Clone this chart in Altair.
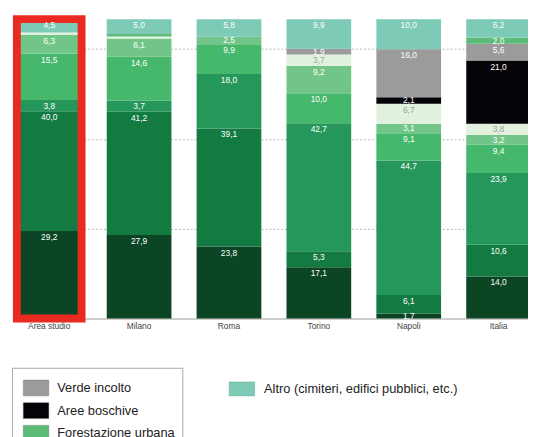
import altair as alt
import pandas as pd

cities = ["Area studio", "Milano", "Roma", "Torino", "Napoli", "Italia"]

categories = [
    "Verde storico",
    "Grandi parchi urbani",
    "Verde attrezzato",
    "Aree di arredo urbano",
    "Giardini scolastici",
    "Orti urbani",
    "Aree boschive",
    "Verde incolto",
    "Forestazione urbana",
    "Altro (cimiteri, edifici pubblici, etc.)",
]

colors = [
    "#0b4523", "#137a42", "#26975a", "#45b86c", "#72c588",
    "#e2f1de", "#050208", "#9b9b9b", "#5cbb77", "#7dcab6",
]

# values per city, bottom -> top, in the category order above
area_studio = [29.2, 40.0, 3.8, 15.5, 6.3, 0.7, 0.0, 0.0, 0.0, 4.5]
milano      = [27.9, 41.2, 3.7, 14.6, 6.1, 0.7, 0.0, 0.0, 0.8, 5.0]
roma        = [23.8, 39.1, 18.0, 9.9, 2.5, 0.0, 0.0, 0.0, 0.0, 5.8]
torino      = [17.1, 5.3, 42.7, 10.0, 9.2, 3.7, 0.0, 1.9, 0.0, 9.9]
napoli      = [1.7, 6.1, 44.7, 9.1, 3.1, 6.7, 2.1, 16.0, 0.0, 10.0]
italia      = [14.0, 10.6, 23.9, 9.4, 3.2, 3.8, 21.0, 5.6, 2.0, 6.2]

series = [area_studio, milano, roma, torino, napoli, italia]

rows = []
for city, vals in zip(cities, series):
    for i, (cat, v) in enumerate(zip(categories, vals)):
        rows.append({"city": city, "cat": cat, "order": i, "value": v})
df = pd.DataFrame(rows)

ALTRO = categories[-1]
VERY_LIGHT = categories[5]
FONT = "Liberation Sans"

rect_path = "M-1,-0.62H1V0.62H-1Z"
rect_path2 = "M-1,-0.55H1V0.55H-1Z"

x_enc = alt.X(
    "city:N",
    sort=cities,
    scale=alt.Scale(range=[9, 531], paddingInner=0.28, paddingOuter=0),
    axis=alt.Axis(
        title=None, ticks=False, labelAngle=0, labelFont=FONT, labelFontSize=8.5,
        labelColor="#444", labelPadding=3, domainColor="#9a9a9a", domainWidth=1,
        grid=False,
    ),
)

base = (
    alt.Chart(df)
    .transform_joinaggregate(total="sum(value)", groupby=["city"])
    .transform_calculate(pct="100 * datum.value / datum.total")
    .transform_window(
        cum="sum(pct)", sort=[alt.SortField("order")], groupby=["city"], frame=[None, 0]
    )
    .transform_calculate(
        start="datum.cum - datum.pct",
        ly="datum.cum - min(datum.pct / 2, 2.0)",
        label="replace(format(datum.value, '.1f'), '.', ',')",
    )
)

y_scale = alt.Scale(domain=[0, 100], nice=False)
y_axis = alt.Axis(
    title=None, labels=False, ticks=False, domain=False, values=[30, 60, 90],
    grid=True, gridColor="#b5b5b5", gridDash=[2, 2], gridWidth=1,
)

bars = base.transform_filter(alt.datum.cat != ALTRO).mark_bar().encode(
    x=x_enc,
    y=alt.Y("start:Q", scale=y_scale, axis=y_axis),
    y2="cum:Q",
    color=alt.Color(
        "cat:N",
        scale=alt.Scale(domain=categories[:-1], range=colors[:-1]),
        legend=alt.Legend(
            title=None,
            values=["Verde incolto", "Aree boschive", "Forestazione urbana"],
            orient="none", legendX=4, legendY=354, direction="vertical",
            strokeColor="#a8a8a8", padding=7, symbolOffset=4,
            symbolType=rect_path, symbolSize=676, symbolStrokeColor="#7a7a7a",
            symbolStrokeWidth=0.4, labelFont=FONT, labelFontSize=13,
            labelColor="#222", labelOffset=8, rowPadding=0, labelLimit=300,
        ),
    ),
)

altro = base.transform_filter(alt.datum.cat == ALTRO).mark_bar().encode(
    x=x_enc,
    y=alt.Y("start:Q", scale=y_scale),
    y2="cum:Q",
    fill=alt.Fill(
        "cat:N",
        scale=alt.Scale(domain=[ALTRO], range=[colors[-1]]),
        legend=alt.Legend(
            title=None, orient="none", legendX=224, legendY=362, padding=0,
            symbolType=rect_path2, symbolSize=676, symbolStrokeColor="#6aa898",
            symbolStrokeWidth=0.4, labelFont=FONT, labelFontSize=13,
            labelColor="#222", labelOffset=9, labelLimit=400,
        ),
    ),
)

frame = base.transform_filter(alt.datum.city == cities[0]).mark_bar(
    fillOpacity=0, stroke="#ea2a20", strokeWidth=8
).encode(
    x=x_enc,
    y=alt.Y("sum(pct):Q", scale=y_scale),
)

labels = base.transform_filter(alt.datum.value >= 1.5).mark_text(
    baseline="middle", font=FONT, fontSize=8.5
).encode(
    x=x_enc,
    y=alt.Y("ly:Q", scale=y_scale),
    text="label:N",
    color=alt.condition(
        alt.datum.cat == VERY_LIGHT, alt.value("#97a597"), alt.value("#ffffff")
    ),
)

chart = (
    alt.layer(bars, altro, frame, labels)
    .properties(
        width=524, height=304,
        autosize=alt.AutoSizeParams(type="none"),
        padding={"left": 0, "top": 8, "right": 4, "bottom": 117},
        background="white",
    )
    .configure_view(stroke=None)
)

chart.save("out.html", embed_options={"renderer": "svg", "actions": False})
